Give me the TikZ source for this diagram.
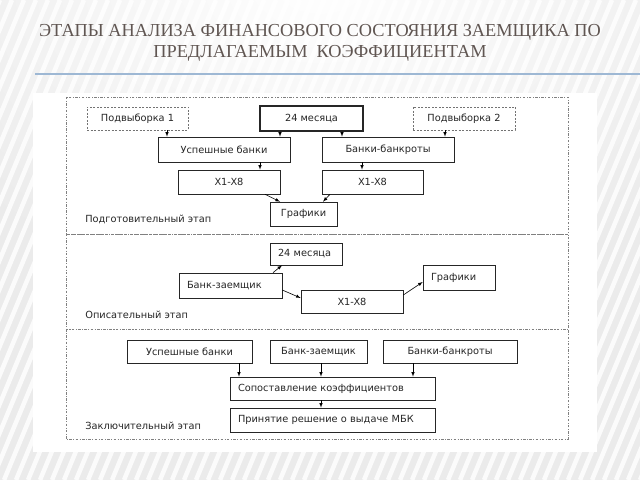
\documentclass[tikz,border=0pt]{standalone}
\usepackage{fontspec}
\setsansfont{DejaVu Sans}
\newfontfamily\slidetitlefont{Liberation Serif}
\usetikzlibrary{positioning,fadings}

\definecolor{titlegray}{RGB}{96,86,82}
\definecolor{rulerblue}{RGB}{158,184,212}
\tikzfading[name=glow, inner color=transparent!0, outer color=transparent!100]

\begin{document}
\begin{tikzpicture}[x=1pt, y=1pt, -latex, semithick,
                    blk/.style   = {rectangle,
                                    draw = black!85,
                                    line width = 0.6pt,
                                    inner sep = 0pt,
                                    text = black!85,
                                    font = \sffamily\fontsize{9.8}{11}\selectfont},
                    wh/.style 2 args = {minimum width = #1pt,
                                    minimum height = #2pt},
                    lft/.style   = {inner xsep = 8pt,
                                    text width = #1pt,
                                    align = left},
                    sub/.style   = {blk,
                                    draw = black!55,
                                    dash pattern = on 2pt off 1.5pt},
                    stagebox/.style = {draw = black!50,
                                    line width = 0.6pt,
                                    dash pattern = on 2.5pt off 1.5pt on 0.8pt off 1.5pt},
                    stagelabel/.style = {anchor = west,
                                    inner sep = 0pt,
                                    text = black!85,
                                    font = \sffamily\fontsize{9.8}{11}\selectfont}]

% slide background
\begin{scope}[-]
  \clip (0,0) rectangle (640,480);
  \fill[gray!16] (0,0) rectangle (640,480);
  \foreach \s in {-260,-248,...,640}
    \draw[white, line width=4.5pt, opacity=0.8] (\s,0) -- ++(200,480);
  \fill[white, path fading=glow] (320,500) ellipse [x radius=470, y radius=330];
  \draw[rulerblue, line width=1.6pt] (35,406) -- (640,406);
  \fill[white] (33,28) rectangle (597,387);
\end{scope}

\node[text = titlegray, align = center,
      font = \slidetitlefont\fontsize{18.3}{20.5}\selectfont] (title) at (320,437)
     {ЭТАПЫ АНАЛИЗА ФИНАНСОВОГО СОСТОЯНИЯ ЗАЕМЩИКА ПО\\ПРЕДЛАГАЕМЫМ\ \ КОЭФФИЦИЕНТАМ};

% stages
\draw[stagebox] (66,383) rectangle (568,246);
\draw[stagebox] (66,246) rectangle (568,151);
\draw[stagebox] (66,151) rectangle (568,41);

% preparatory stage
\node[sub, wh={101}{23}] (sub1) at (137.5,361.5) {Подвыборка 1};
\node[blk, wh={103}{25}, line width=1.2pt] (m24) at (311.5,361.5) {24 месяца};
\node[sub, wh={102}{23}] (sub2) at (464,361.5) {Подвыборка 2};
\node[blk, wh={132}{25}] (ok1) at (224,330.5) {Успешные банки};
\node[blk, wh={132}{25}] (bk1) at (388,330.5) {Банки-банкроты};
\node[blk, wh={102}{24}] (xa) at (229,298) {X1-X8};
\node[blk, wh={101}{24}] (xb) at (372.5,298) {X1-X8};
\node[blk, wh={67}{24}] (gr1) at (303.5,266) {Графики};
\node[stagelabel] (lab1) at (85,261) {Подготовительный этап};

\path ([xshift=29.5pt]sub1.south) edge ([xshift=29.5pt]sub1.south |- ok1.north);
\path ([xshift=-31.5pt]m24.south) edge ([xshift=-31.5pt]m24.south |- ok1.north);
\path ([xshift=30.5pt]m24.south) edge ([xshift=30.5pt]m24.south |- bk1.north);
\path ([xshift=-19pt]sub2.south) edge ([xshift=-19pt]sub2.south |- bk1.north);
\path ([xshift=36pt]ok1.south) edge ([xshift=36pt]ok1.south |- xa.north);
\path ([xshift=-26pt]bk1.south) edge ([xshift=-26pt]bk1.south |- xb.north);
\path ([xshift=36pt]xa.south) edge ([xshift=-23.5pt]gr1.north);
\path ([xshift=-42.5pt]xb.south) edge ([xshift=19.5pt]gr1.north);

% descriptive stage
\node[blk, wh={72}{22}, lft=56] (m24b) at (306,226) {24 месяца};
\node[blk, wh={103}{25}, lft=87] (zb) at (230.5,194.5) {Банк-заемщик};
\node[blk, wh={72}{25}, lft=56] (gr2) at (459,202.5) {Графики};
\node[blk, wh={102}{23}] (x2) at (352,178.5) {X1-X8};
\node[stagelabel] (lab2) at (85,165) {Описательный этап};

\path ([xshift=42.5pt]zb.north) edge ([xshift=-24pt]m24b.south);
\path ([yshift=-4.5pt]zb.east) edge ([yshift=3.5pt]x2.west);
\path ([yshift=6.5pt]x2.east) edge ([yshift=-4.5pt]gr2.west);

% final stage
\node[blk, wh={125}{23}] (ok3) at (189.5,128.5) {Успешные банки};
\node[blk, wh={97}{23}] (zb3) at (318.5,128.5) {Банк-заемщик};
\node[blk, wh={134}{23}] (bk3) at (450,128.5) {Банки-банкроты};
\node[blk, wh={205}{23}, lft=189] (cmp) at (332.5,91.5) {Сопоставление коэффициентов};
\node[blk, wh={205}{24}, lft=189] (dec) at (332.5,60) {Принятие решение о выдаче МБК};
\node[stagelabel] (lab3) at (85,54) {Заключительный этап};

\path ([xshift=49.5pt]ok3.south) edge ([xshift=49.5pt]ok3.south |- cmp.north);
\path ([xshift=2.5pt]zb3.south) edge ([xshift=2.5pt]zb3.south |- cmp.north);
\path ([xshift=-37pt]bk3.south) edge ([xshift=-37pt]bk3.south |- cmp.north);
\path ([xshift=-11.5pt]cmp.south) edge ([xshift=-11.5pt]cmp.south |- dec.north);

\end{tikzpicture}
\end{document}
